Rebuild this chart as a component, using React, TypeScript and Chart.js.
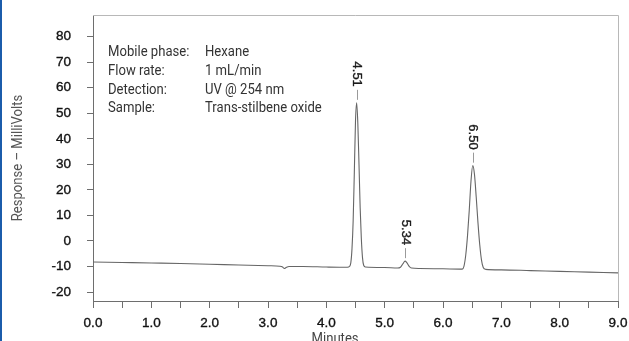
import React, { useEffect, useRef } from 'react';
import { Chart, registerables } from 'chart.js';

Chart.register(...registerables);

// ---- data ----
const timeMinutes = [
  0.0, 0.5, 1.0, 1.5, 2.0, 2.5, 3.0, 3.2, 3.25, 3.28, 3.31, 3.36, 3.6, 4.0,
  4.36, 4.4, 4.42, 4.44, 4.46, 4.48, 4.5, 4.52, 4.54, 4.56, 4.58, 4.6, 4.62, 4.64, 4.67,
  5.0, 5.22, 5.27, 5.31, 5.35, 5.38, 5.42, 5.46, 5.6, 6.0,
  6.33, 6.36, 6.39, 6.42, 6.45, 6.48, 6.51, 6.54, 6.57, 6.6, 6.63, 6.66, 6.69, 6.73,
  7.0, 7.5, 8.0, 8.5, 9.0,
];
const responseMv = [
  -8.2, -8.4, -8.6, -8.8, -9.1, -9.4, -9.7, -9.9, -10.2, -10.8, -10.4, -10.0, -10.0, -10.2,
  -10.3, -9.9, -8.5, -3, 8, 27, 47, 54.1, 46, 30, 13, 1, -6.5, -9.5, -10.2,
  -10.4, -10.6, -10.3, -9.0, -7.9, -8.5, -9.9, -10.6, -10.8, -10.9,
  -11.0, -9.8, -5.5, 2, 12, 23.5, 29.5, 26, 17, 7, -1.5, -7.5, -10.4, -11.1,
  -11.3, -11.6, -11.9, -12.2, -12.5,
];
const peakTimes = [4.51, 5.34, 6.5];
const peakLabels = ['4.51', '5.34', '6.50'];
const infoLabels = ['Mobile phase:', 'Flow rate:', 'Detection:', 'Sample:'];
const infoValues = ['Hexane', '1 mL/min', 'UV @ 254 nm', 'Trans-stilbene oxide'];
const xTitle = 'Minutes';
const yTitle = 'Response – MilliVolts';
const xMin = 0;
const xMax = 9;
const yMin = -23.5;
const yMax = 88.5;

function hasFont(name: string): boolean {
  const c = document.createElement('canvas').getContext('2d');
  if (!c) return false;
  const s = 'Response – MilliVolts Mobile phase 0123';
  c.font = '40px monospace';
  const w1 = c.measureText(s).width;
  c.font = `40px "${name}", monospace`;
  const w2 = c.measureText(s).width;
  return Math.abs(w1 - w2) > 0.5;
}

export default function App() {
  const ref = useRef<HTMLCanvasElement | null>(null);

  useEffect(() => {
    const canvas = ref.current;
    if (!canvas) return;
    const narrow = hasFont('Liberation Sans Narrow');
    const textFamily = narrow ? '"Liberation Sans Narrow", Roboto, sans-serif' : 'Roboto, sans-serif';
    const textSize = narrow ? 16 : 15.5;
    const sx = narrow ? 1 : 0.845;
    const numFamily = '"Liberation Sans", Arial, sans-serif';

    const drawText = (ctx: any, text: string, x: number, y: number, align: string, rot = 0) => {
      ctx.save();
      ctx.translate(x, y);
      if (rot) ctx.rotate(rot);
      ctx.scale(sx, 1);
      ctx.textAlign = align;
      ctx.fillText(text, 0, 0);
      ctx.restore();
    };

    const annotate = {
      id: 'annotate',
      afterDraw(chart: any) {
        const { ctx, chartArea: a, scales } = chart;
        const xs = scales.x;
        const ys = scales.y;
        ctx.save();
        // top and right frame
        ctx.strokeStyle = '#b8b8b8';
        ctx.lineWidth = 1;
        ctx.beginPath();
        ctx.moveTo(a.left, Math.round(a.top) + 0.5);
        ctx.lineTo(Math.round(a.right) + 0.5, Math.round(a.top) + 0.5);
        ctx.lineTo(Math.round(a.right) + 0.5, a.bottom);
        ctx.stroke();

        // info block
        ctx.fillStyle = '#333';
        ctx.font = `${textSize}px ${textFamily}`;
        ctx.textBaseline = 'middle';
        infoLabels.forEach((lab, i) => {
          const yy = a.top + 37.5 + i * 18.6;
          drawText(ctx, lab, a.left + 15, yy, 'left');
          drawText(ctx, infoValues[i], a.left + 112, yy, 'left');
        });

        // axis titles
        ctx.fillStyle = '#555';
        drawText(ctx, yTitle, 18, (a.top + a.bottom) / 2, 'center', -Math.PI / 2);
        ctx.fillStyle = '#444';
        drawText(ctx, xTitle, xs.getPixelForValue(4.15), a.bottom + 38, 'center');

        // peak labels
        peakTimes.forEach((t, i) => {
          let best = -1;
          for (let k = 0; k < timeMinutes.length; k++) {
            if (Math.abs(timeMinutes[k] - t) <= 0.06 && (best < 0 || responseMv[k] > responseMv[best])) best = k;
          }
          const px = xs.getPixelForValue(timeMinutes[best]);
          const py = ys.getPixelForValue(responseMv[best]);
          ctx.strokeStyle = '#9a9a9a';
          ctx.lineWidth = 1;
          ctx.beginPath();
          ctx.moveTo(Math.round(px) + 0.5, py - 3);
          ctx.lineTo(Math.round(px) + 0.5, py - 13);
          ctx.stroke();
          ctx.save();
          ctx.translate(px, py - 16);
          ctx.rotate(Math.PI / 2);
          ctx.fillStyle = '#1a1a1a';
          ctx.strokeStyle = '#1a1a1a';
          ctx.lineWidth = 0.35;
          ctx.font = `13px ${numFamily}`;
          ctx.textAlign = 'right';
          ctx.textBaseline = 'middle';
          ctx.fillText(peakLabels[i], 0, 0);
          ctx.strokeText(peakLabels[i], 0, 0);
          ctx.restore();
        });
        ctx.restore();
      },
    };

    const tickFont = { family: numFamily, size: 13.5 };
    const noPad = (s: any) => {
      s.paddingTop = 0;
      s.paddingBottom = 0;
      s.paddingLeft = 0;
      s.paddingRight = 0;
    };

    const chart = new Chart(canvas, {
      type: 'line',
      data: {
        datasets: [
          {
            data: timeMinutes.map((t, i) => ({ x: t, y: responseMv[i] })),
            borderColor: '#666',
            borderWidth: 1.1,
            pointRadius: 0,
            cubicInterpolationMode: 'monotone',
            fill: false,
          },
        ],
      },
      options: {
        animation: false,
        responsive: false,
        layout: { padding: { left: 0, right: 11, top: 15, bottom: 0 } },
        plugins: { legend: { display: false }, tooltip: { enabled: false } },
        scales: {
          x: {
            type: 'linear',
            min: xMin,
            max: xMax,
            afterFit: (s: any) => {
              s.height = 40;
              noPad(s);
            },
            border: { display: true, color: '#6e6e6e', width: 1 },
            grid: { display: true, drawOnChartArea: false, drawTicks: true, tickLength: 7, tickColor: '#6e6e6e' },
            ticks: {
              stepSize: 0.5,
              autoSkip: false,
              maxRotation: 0,
              padding: 7,
              color: '#111',
              textStrokeColor: '#111',
              textStrokeWidth: 0.35,
              font: tickFont,
              callback: (v: any) => (Math.abs(v - Math.round(v)) < 1e-6 ? Number(v).toFixed(1) : ''),
            },
          },
          y: {
            type: 'linear',
            min: yMin,
            max: yMax,
            afterFit: (s: any) => {
              s.width = 93;
              noPad(s);
            },
            border: { display: true, color: '#6e6e6e', width: 1 },
            grid: { display: true, drawOnChartArea: false, drawTicks: true, tickLength: 6, tickColor: '#6e6e6e' },
            ticks: {
              stepSize: 5,
              includeBounds: false,
              padding: 16,
              color: '#111',
              textStrokeColor: '#111',
              textStrokeWidth: 0.35,
              font: tickFont,
              callback: (v: any) => (Math.abs(v % 10) < 1e-6 ? String(v) : ''),
            },
          },
        },
      },
      plugins: [annotate],
    } as any);

    return () => chart.destroy();
  }, []);

  return (
    <div style={{ position: 'fixed', left: 0, top: 0, width: 629, height: 341, background: '#fff' }}>
      <div style={{ position: 'absolute', left: 0, top: 0, width: 2, height: 341, background: '#1b5cab', zIndex: 1 }} />
      <canvas ref={ref} width={629} height={341} style={{ display: 'block' }} />
    </div>
  );
}
